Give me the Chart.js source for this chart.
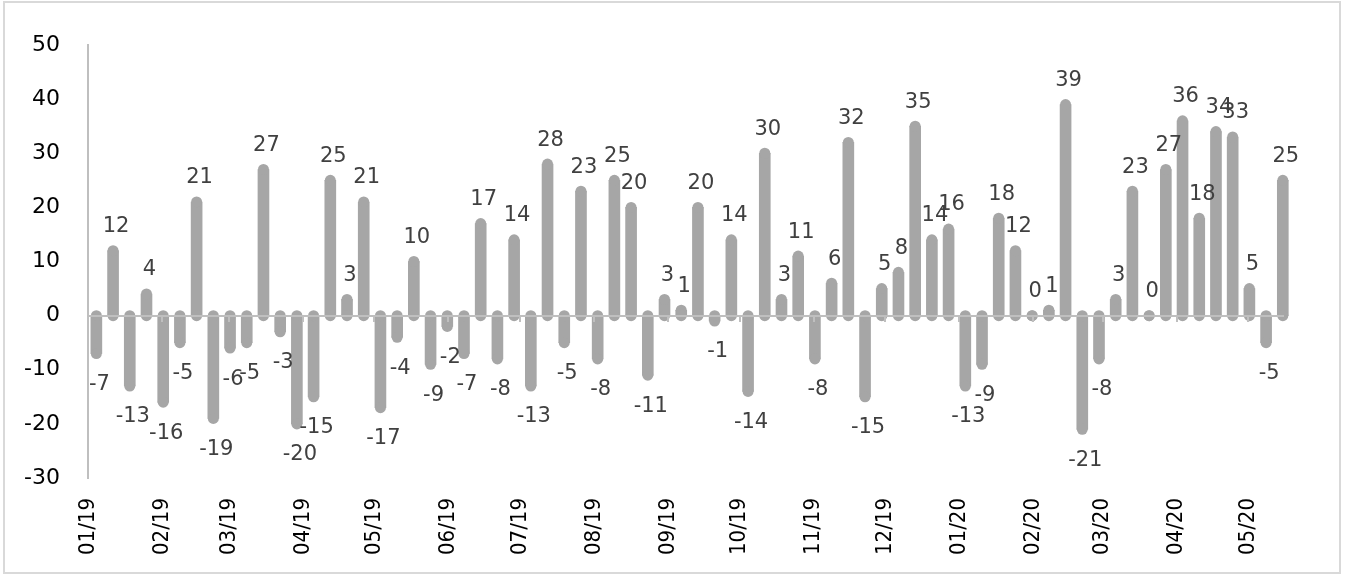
<!DOCTYPE html>
<html>
<head>
<meta charset="utf-8">
<script src="https://cdn.jsdelivr.net/npm/chart.js@4.4.0/dist/chart.umd.min.js"></script>
<style>
html,body{margin:0;padding:0;background:#fff;overflow:hidden}
#wrap{position:relative;width:1348px;height:576px}
</style>
</head>
<body>
<div id="wrap"><canvas id="c" width="1348" height="576"></canvas></div>
<script>
// ---- data ----
const weekDates = [
  '2019-01-04','2019-01-11','2019-01-18','2019-01-25',
  '2019-02-01','2019-02-08','2019-02-15','2019-02-22',
  '2019-03-01','2019-03-08','2019-03-15','2019-03-22','2019-03-29',
  '2019-04-05','2019-04-12','2019-04-19','2019-04-26',
  '2019-05-03','2019-05-10','2019-05-17','2019-05-24','2019-05-31',
  '2019-06-07','2019-06-14','2019-06-21','2019-06-28',
  '2019-07-05','2019-07-12','2019-07-19','2019-07-26',
  '2019-08-02','2019-08-09','2019-08-16','2019-08-23','2019-08-30',
  '2019-09-06','2019-09-13','2019-09-20','2019-09-27',
  '2019-10-04','2019-10-11','2019-10-18','2019-10-25',
  '2019-11-01','2019-11-08','2019-11-15','2019-11-22','2019-11-29',
  '2019-12-06','2019-12-13','2019-12-20','2019-12-27',
  '2020-01-03','2020-01-10','2020-01-17','2020-01-24','2020-01-31',
  '2020-02-07','2020-02-14','2020-02-21','2020-02-28',
  '2020-03-06','2020-03-13','2020-03-20','2020-03-27',
  '2020-04-03','2020-04-10','2020-04-17','2020-04-24',
  '2020-05-01','2020-05-08','2020-05-15'
];
const weeklyValues = [
  -7, 12, -13, 4, -16, -5, 21, -19, -6, -5,
  27, -3, -20, -15, 25, 3, 21, -17, -4, 10,
  -9, -2, -7, 17, -8, 14, -13, 28, -5, 23,
  -8, 25, 20, -11, 3, 1, 20, -1, 14, -14,
  30, 3, 11, -8, 6, 32, -15, 5, 8, 35,
  14, 16, -13, -9, 18, 12, 0, 1, 39, -21,
  -8, 3, 23, 0, 27, 36, 18, 34, 33, 5,
  -5, 25
];
const tickDates = [
  '2019-01-01','2019-02-01','2019-03-01','2019-04-01','2019-05-01','2019-06-01',
  '2019-07-01','2019-08-01','2019-09-01','2019-10-01','2019-11-01','2019-12-01',
  '2020-01-01','2020-02-01','2020-03-01','2020-04-01','2020-05-01'
];
const tickLabels = [
  '01/19','02/19','03/19','04/19','05/19','06/19',
  '07/19','08/19','09/19','10/19','11/19','12/19',
  '01/20','02/20','03/20','04/20','05/20'
];
const axisStartDate = '2019-01-01';
const axisEndDate = '2020-05-16';
const yMin = -30, yMax = 50, yStep = 10;

// ---- helpers ----
const DAY = 86400000;
const dayIndex = d => Math.round((Date.parse(d) - Date.parse(axisStartDate)) / DAY);
const tickDays = tickDates.map(dayIndex);
const labelByDay = {};
tickDays.forEach((d, i) => { labelByDay[d] = tickLabels[i]; });

const BAR_COLOR = '#A6A6A6';
const AXIS_COLOR = '#BFBFBF';

const framePlugin = {
  id: 'frame',
  beforeDraw(chart) {
    const ctx = chart.ctx;
    ctx.save();
    ctx.fillStyle = '#ffffff';
    ctx.fillRect(0, 0, chart.width, chart.height);
    ctx.restore();
  },
  afterDraw(chart) {
    const ctx = chart.ctx;
    ctx.save();
    ctx.strokeStyle = '#D9D9D9';
    ctx.lineWidth = 2;
    ctx.strokeRect(4, 2, 1336, 571);
    ctx.restore();
  }
};

const capsAxisPlugin = {
  id: 'capsAxis',
  afterDatasetsDraw(chart) {
    const ctx = chart.ctx;
    const meta = chart.getDatasetMeta(0);
    ctx.save();
    ctx.fillStyle = BAR_COLOR;
    meta.data.forEach(el => {
      const p = el.getProps(['x', 'y', 'base', 'width'], true);
      const r = p.width / 2;
      ctx.beginPath();
      ctx.arc(p.x, p.y, r, 0, Math.PI * 2);
      ctx.fill();
      ctx.beginPath();
      ctx.arc(p.x, p.base, r, 0, Math.PI * 2);
      ctx.fill();
    });
    const xs = chart.scales.x, ys = chart.scales.y;
    const y0 = Math.round(ys.getPixelForValue(0));
    const area = chart.chartArea;
    ctx.strokeStyle = AXIS_COLOR;
    ctx.lineWidth = 2;
    ctx.beginPath();
    ctx.moveTo(area.left, y0);
    ctx.lineTo(area.right, y0);
    ctx.stroke();
    tickDays.forEach(d => {
      const x = Math.round(xs.getPixelForValue(d));
      ctx.beginPath();
      ctx.moveTo(x, y0);
      ctx.lineTo(x, y0 + 6);
      ctx.stroke();
    });
    ctx.restore();
  }
};

const labelPlugin = {
  id: 'valueLabels',
  afterDatasetsDraw(chart) {
    const ctx = chart.ctx;
    const meta = chart.getDatasetMeta(0);
    ctx.save();
    ctx.font = '21px "DejaVu Sans"';
    ctx.fillStyle = '#404040';
    ctx.textAlign = 'center';
    ctx.textBaseline = 'middle';
    meta.data.forEach((el, i) => {
      const v = weeklyValues[i];
      const p = el.getProps(['x', 'y'], true);
      const ty = v >= 0 ? p.y - 24 : p.y + 31;
      ctx.fillText(String(v), p.x + 3, ty);
    });
    ctx.restore();
  }
};

new Chart(document.getElementById('c'), {
  type: 'bar',
  data: {
    datasets: [{
      label: 'Weekly value',
      data: weekDates.map((d, i) => ({ x: dayIndex(d) + 0.5, y: weeklyValues[i] })),
      backgroundColor: BAR_COLOR,
      borderWidth: 0,
      barThickness: 11,
      clip: false
    }]
  },
  options: {
    responsive: false,
    animation: false,
    layout: { padding: { left: 0, right: 64, top: 45, bottom: 0 } },
    plugins: { legend: { display: false }, tooltip: { enabled: false } },
    scales: {
      x: {
        type: 'linear',
        position: 'bottom',
        min: 0,
        max: dayIndex(axisEndDate),
        offset: false,
        grid: { display: false, offset: false },
        border: { display: false },
        afterBuildTicks: s => { s.ticks = tickDays.map(v => ({ value: v })); },
        afterFit: s => { s.height = 98; },
        ticks: {
          autoSkip: false,
          minRotation: 90,
          maxRotation: 90,
          padding: 12,
          color: '#000000',
          font: { family: '"DejaVu Sans Condensed", sans-serif', size: 22 },
          callback: v => (labelByDay[v] !== undefined ? labelByDay[v] : '')
        }
      },
      y: {
        min: yMin,
        max: yMax,
        afterFit: s => { s.width = 88; },
        grid: { display: false },
        border: { display: true, color: AXIS_COLOR, width: 2 },
        ticks: {
          stepSize: yStep,
          padding: 20,
          color: '#000000',
          font: { family: '"DejaVu Sans"', size: 22 }
        }
      }
    }
  },
  plugins: [framePlugin, capsAxisPlugin, labelPlugin]
});
</script>
</body>
</html>
